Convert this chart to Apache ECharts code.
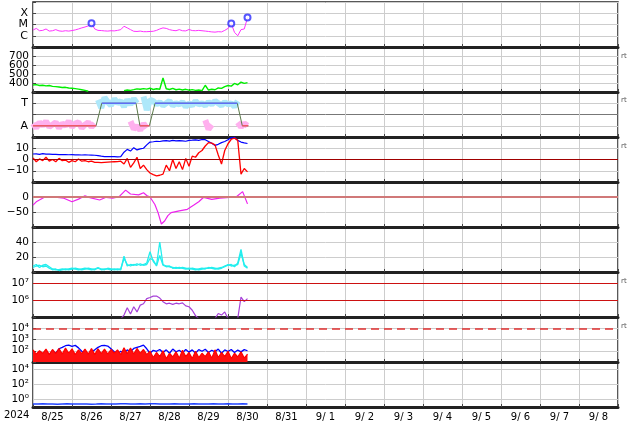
<!DOCTYPE html>
<html><head><meta charset="utf-8">
<script src="https://cdn.jsdelivr.net/npm/echarts@6/dist/echarts.min.js"></script>
<style>html,body{margin:0;padding:0;background:#fff}#c{width:634px;height:424px}</style>
</head><body><div id="c"></div><script>
// ---- time bases (hours from 2024-08-25 00:00) ----
const hours2 = [0,2,4,6,8,10,12,14,16,18,20,22,24,26,28,30,32,34,36,38,40,42,44,46,48,50,52,54,56,58,60,62,64,66,68,70,72,74,76,78,80,82,84,86,88,90,92,94,96,98,100,102,104,106,108,110,112,114,116,118,120,122,124,126,128,130,132];
const hours3 = [0,3,6,9,12,15,18,21,24,27,30,33,36,39,42,45,48,51,54,57,60,63,66,69,72,75,78,81,84,87,90,93,96,99,102,105,108,111,114,117,120,123,126,129,132];
const dayLabels = ['8/25','8/26','8/27','8/28','8/29','8/30','8/31','9/ 1','9/ 2','9/ 3','9/ 4','9/ 5','9/ 6','9/ 7','9/ 8'];
const yearLabel = '2024';

// panel 1: X-ray flux (units 1e-6 W/m2)
const xray = [3.2,4.5,2.8,3.0,4.0,2.6,2.8,3.5,2.7,2.5,2.8,2.6,2.9,3.3,4.0,5.0,6.0,7.5,12,4.0,3.0,2.9,2.7,2.6,2.8,2.7,3.0,3.5,7.0,5.0,3.5,2.5,2.4,2.6,2.3,2.3,2.4,2.5,3.0,4.0,5.0,4.5,3.5,3.0,2.8,3.5,2.8,2.7,3.6,2.9,2.8,3.0,2.8,2.6,2.4,2.2,2.1,2.3,2.2,3.0,4.5,12,2.0,1.0,3.5,4.0,40];
const flareHours = [36,122,132];
const flareValues = [13,12,42];
const xrayClassLabels = {0:'C',1:'M',2:'X'};

// panel 2: solar wind speed
const speed = [378,382,372,375,368,372,362,360,355,350,352,345,342,338,332,325,318,308,null,null,null,null,null,null,null,null,null,null,315,322,318,326,335,330,338,332,342,328,336,330,455,336,328,340,325,332,322,330,320,326,318,322,315,375,322,330,325,345,340,360,372,365,395,380,410,395,405];

// panel 3: IMF sector
const tBand = [null,null,null,null,null,null,null,null,null,null,null,null,null,null,null,null,null,null,null,null,3.3,2.6,3.5,3.1,2.8,3.4,3.0,3.2,2.7,3.3,2.9,3.4,3.0,null,3.6,2.4,3.3,3.2,2.9,3.1,2.8,3.0,3.2,2.8,3.0,2.9,3.1,2.7,3.0,2.8,3.2,2.9,3.0,2.8,3.1,2.9,3.2,3.0,2.8,3.1,2.9,3.0,2.7,3.2,null,null,null];
const aBand = [1.2,0.8,1.3,1.0,1.4,0.9,1.1,1.3,0.8,1.2,1.0,1.4,0.9,1.2,1.3,0.8,1.1,1.3,0.9,1.2,null,null,null,null,null,null,null,null,null,null,1.4,0.7,1.0,0.6,1.2,0.8,null,null,null,null,null,null,null,null,null,null,null,null,null,null,null,null,null,1.5,0.7,1.1,null,null,null,null,null,null,null,1.3,0.9,1.2,1.0];
const sectorHours = [0,38.8,42.3,63.4,65.8,71.6,75.1,125.7,128.8,132.5];
const sectorValues = [1,1,3,3,1,1,3,3,1,1];
const sectorLabels = {1:'A',3:'T'};

// panel 4: IMF Bt / Bz
const bt = [4.9,5.0,4.6,5.2,4.8,4.7,4.5,4.6,4.4,4.3,4.4,4.2,4.3,4.1,4.2,4.0,4.1,4.0,3.9,3.8,3.5,3.0,2.6,2.5,2.5,2.6,2.4,2.5,6.5,9.0,7.5,10.5,8.5,9.5,10.0,13.0,15.5,15.8,16.2,16.0,16.5,16.8,16.4,17.0,16.6,16.8,16.5,16.2,17.0,17.2,17.5,17.0,17.8,17.6,16.0,14.5,12.5,13.5,15.0,16.0,17.5,19.5,19.8,17.0,15.5,14.8,14.2];
const bz = [1.5,-2,0.5,-1,2,-1.5,0,-2,1,-1,-0.5,-2.5,-1,-2,0.5,-1.5,-1,-2,-1.5,-2.5,-2.5,-2.8,-2.6,-2.4,-2.2,-2.0,-1.8,-1.5,-4,1,-7,-3,2,-8,-5,-9,-12,-13.5,-14.5,-14,-13,-5,-10,0,-8,-2,-9,1,-6,3,2,6,8,12,15,14.5,13,4,-4,8,14,18,19,17,-13,-8,-11];

// panel 5: Dst
const dstHours = [0,2,7,15,19,24,28,32,35,41,45,49,53,57,60,65,68,70,72,75,77,79,81,83,85,90,95,99,102,105,110,115,121,125,129,132];
const dstValues = [-27,-16,-1,-1,-4,-16,-7,4,-2,-10,-1,-4,1,23,10,7,14,5,0,-25,-53,-90,-80,-62,-52,-46,-41,-27,-16,-1,-8,-4,-1,0,18,-23];

// panel 6: two cyan traces
const cyan1 = [8,10,6,9,10,7,4,3,3,4,3,4,5,4,3,4,5,4,3,4,6,4,3,5,4,3,4,3,21,8,10,9,11,9,10,12,27,14,9,40,10,8,7,6,5,6,5,4,5,4,3,4,5,4,6,5,4,5,6,8,9,10,7,12,30,8,5];
const cyan2 = [6,8,9,7,8,5,3,4,2,3,4,3,4,5,4,3,4,5,4,3,5,3,4,4,3,4,3,4,18,10,8,10,9,11,9,10,18,16,8,22,9,7,8,5,6,5,6,5,4,5,4,3,4,5,5,6,5,4,5,7,10,8,9,10,25,10,6];

// panel 7: electron flux
const electron = [null,null,null,null,null,null,null,null,null,null,null,null,null,null,null,null,null,null,null,null,null,null,null,null,null,null,null,8e4,1.3e5,3.5e5,1.5e5,4e5,2e5,5e5,6e5,1.2e6,1.4e6,1.7e6,1.7e6,1.3e6,8e5,6e5,6.5e5,5.5e5,6.5e5,6e5,6.8e5,4.5e5,4e5,2.5e5,1.2e5,8e4,null,null,null,null,8e4,1.6e5,1.3e5,2e5,8e4,null,null,8e4,1.5e6,8e5,1.2e6];
const electronThresholds = [1e6,1e7];

// panel 8: noisy traces
const p8Blue = [60,35,80,50,90,40,100,60,150,200,280,320,250,300,180,90,60,40,80,120,200,280,300,260,150,80,50,90,60,120,80,160,200,250,320,150,60,110,90,130,70,120,60,140,80,110,65,130,75,120,60,125,90,135,70,110,80,140,60,120,85,130,70,115,80,125,100];
const p8Red = [120,50,100,60,140,45,130,55,160,50,170,60,150,45,120,55,140,50,160,45,150,55,140,50,130,60,120,45,180,55,170,50,160,60,130,45,90,25,70,30,100,20,60,28,80,22,110,30,70,20,90,25,60,30,80,22,120,25,70,30,90,20,60,28,80,22,50];
const p8Threshold = 1e4;

// panel 9
const p9Blue = [0.26,0.25,0.27,0.25,0.26,0.24,0.26,0.27,0.25,0.26,0.25,0.26,0.24,0.25,0.27,0.26,0.25,0.26,0.28,0.27,0.26,0.25,0.27,0.26,0.28,0.27,0.26,0.25,0.26,0.27,0.25,0.26,0.25,0.27,0.26,0.25,0.26,0.27,0.25,0.26,0.27,0.25,0.26,0.27,0.26];

// ---------------------------------------------------------------
const FONT = 'DejaVu Sans';
const SUP = {'-1':'⁻¹','0':'⁰','1':'¹','2':'²','3':'³','4':'⁴','5':'⁵','6':'⁶','7':'⁷','8':'⁸'};
function expOf(v){ const l=Math.log10(v); const r=Math.round(l); return Math.abs(l-r)<1e-4 ? r : null; }
function powLabel(show){ return v => { const e=expOf(v); return (e!==null && show.indexOf(e)>=0) ? '10'+SUP[String(e)] : ''; }; }
function pick(show){ return v => show.indexOf(v)>=0 ? String(v).replace('-','−') : ''; }

const grids=[], xAxes=[], yAxes=[];
for (let k=0;k<9;k++){
  grids.push({left:33,right:16,top:2+45*k,height:45,show:true,borderColor:'#222',borderWidth:1.5});
  xAxes.push({type:'value',gridIndex:k,min:0,max:360,interval:24,
    axisLabel:{show:false},
    axisLine:{show:true,onZero:false,lineStyle:{color:'#222',width:3}},
    axisTick:{show:true,inside:true,length:3,lineStyle:{color:'#444'}},
    splitLine:{show:true,lineStyle:{color:'#cdcdcd',width:1}}});
}
xAxes.push({type:'value',gridIndex:8,min:0,max:360,interval:12,position:'bottom',
  axisLine:{show:false},axisTick:{show:false},splitLine:{show:false},
  axisLabel:{show:true,margin:5,fontSize:10,color:'#000',fontFamily:FONT,showMinLabel:true,showMaxLabel:true,
    formatter:v => (v%24===12) ? dayLabels[(v-12)/24] : ''}});

const GRID = '#cdcdcd';
const yBase = (k,extra) => Object.assign({gridIndex:k,axisLine:{show:false},
  axisTick:{show:true,inside:true,length:3,lineStyle:{color:'#444'}},
  splitLine:{show:true,lineStyle:{color:GRID,width:1}},
  axisLabel:{fontSize:10.5,color:'#000',fontFamily:FONT,margin:4}},extra);

yAxes.push(yBase(0,{type:'log',logBase:10,min:0.1,max:1000,
  axisLabel:{fontSize:11,color:'#000',fontFamily:FONT,margin:5,formatter:v=>{const e=expOf(v);return e!==null&&xrayClassLabels[e]?xrayClassLabels[e]:'';}}}));
yAxes.push(yBase(1,{type:'value',min:300,max:800,interval:100,
  axisLabel:{fontSize:10.5,color:'#000',fontFamily:FONT,margin:4,formatter:pick([400,500,600,700])}}));
yAxes.push(yBase(2,{type:'value',min:0,max:4,interval:1,
  splitLine:{show:true,lineStyle:{color:[GRID,GRID,'#777',GRID,GRID],width:1}},
  axisLabel:{fontSize:11,color:'#000',fontFamily:FONT,margin:5,formatter:v=>sectorLabels[v]||''}}));
yAxes.push(yBase(3,{type:'value',min:-20,max:20,interval:10,
  axisLabel:{fontSize:10.5,color:'#000',fontFamily:FONT,margin:4,formatter:pick([-10,0,10])}}));
yAxes.push(yBase(4,{type:'value',min:-100,max:50,interval:50,
  axisLabel:{fontSize:10.5,color:'#000',fontFamily:FONT,margin:4,formatter:pick([-50,0])}}));
yAxes.push(yBase(5,{type:'value',min:0,max:60,interval:20,
  axisLabel:{fontSize:10.5,color:'#000',fontFamily:FONT,margin:4,formatter:pick([20,40])}}));
yAxes.push(yBase(6,{type:'log',logBase:10,min:1e5,max:4.47e7,
  axisLabel:{fontSize:10.5,color:'#000',fontFamily:FONT,margin:4,formatter:powLabel([6,7])}}));
yAxes.push(yBase(7,{type:'log',logBase:10,min:10,max:1e5,
  axisLabel:{fontSize:10.5,color:'#000',fontFamily:FONT,margin:4,formatter:powLabel([2,3,4])}}));
yAxes.push(yBase(8,{type:'log',logBase:10,min:0.1,max:1e5,splitNumber:6,
  splitLine:{show:true,lineStyle:{color:['rgba(0,0,0,0)',GRID,'rgba(0,0,0,0)',GRID,'rgba(0,0,0,0)',GRID,'rgba(0,0,0,0)'],width:1}},
  axisTick:{show:false},
  axisLabel:{fontSize:10.5,color:'#000',fontFamily:FONT,margin:4,formatter:powLabel([0,2,4])}}));

const zip = (xs,ys) => xs.map((x,i)=>[x,ys[i]]);
const line = (k,data,color,w,extra) => Object.assign({type:'line',xAxisIndex:k,yAxisIndex:k,data:data,
  showSymbol:false,symbol:'none',connectNulls:false,clip:true,animation:false,silent:true,
  lineStyle:{color:color,width:w}},extra||{});
const hline = (vals,color,w,type) => ({silent:true,symbol:'none',label:{show:false},animation:false,
  lineStyle:{color:color,width:w,type:type||'solid'},data:vals.map(v=>({yAxis:v}))});

const series = [
  line(0,zip(hours2,xray),'#ff33ff',1),
  {type:'scatter',xAxisIndex:0,yAxisIndex:0,data:zip(flareHours,flareValues),symbol:'emptyCircle',symbolSize:6,
    itemStyle:{color:'#2a2aff',borderWidth:1.5},silent:true,animation:false,z:5},
  line(1,zip(hours2,speed),'#00ee00',1.4),
  line(2,zip(hours2,tBand),'#aee8fa',6,{z:1}),
  line(2,zip(hours2,aBand),'#ffb0ee',6,{z:1}),
  line(2,zip(sectorHours,sectorValues),'#5c7a4a',1,{z:2}),
  line(2,sectorHours.map((h,i)=>[h,sectorValues[i]===3?3:null]),'#5f6ef5',1.5,{z:3}),
  line(2,sectorHours.map((h,i)=>[h,sectorValues[i]===1?1:null]),'#f05868',1.5,{z:3}),
  line(3,zip(hours2,bt),'#0000ff',1.2),
  line(3,zip(hours2,bz),'#ff0000',1.3,{markLine:hline([0],'#a00000',1.2)}),
  line(4,zip(dstHours,dstValues),'#ee22ee',1.2,{markLine:hline([0],'#d07878',2)}),
  line(5,zip(hours2,cyan2),'#22eeee',1.3),
  line(5,zip(hours2,cyan1),'#22eeee',1.3),
  line(6,zip(hours2,electron),'#a640d8',1.2,{markLine:hline(electronThresholds,'#cc1111',1.2)}),
  line(7,zip(hours2,p8Blue),'#0000ff',1.3,{z:2}),
  line(7,zip(hours2,p8Red),'#ff0000',1.2,{z:3,areaStyle:{color:'#ff1010',opacity:1,origin:'start'},
    markLine:hline([p8Threshold],'#e03030',1.5,[8,5])}),
  line(8,zip(hours3,p9Blue),'#2244ff',1.5)
];

const rtY = [57,101,147,282,327];
const graphics = [{type:'text',left:4,top:410,style:{text:yearLabel,font:'10px "DejaVu Sans"',fill:'#000'}}]
  .concat(rtY.map(y=>({type:'text',left:621,top:y-4,style:{text:'rt',font:'7px "DejaVu Sans"',fill:'#555'}})));

const chart = echarts.init(document.getElementById('c'),null,{renderer:'canvas'});
chart.setOption({animation:false,backgroundColor:'#fff',grid:grids,xAxis:xAxes,yAxis:yAxes,series:series,graphic:graphics});
</script></body></html>
